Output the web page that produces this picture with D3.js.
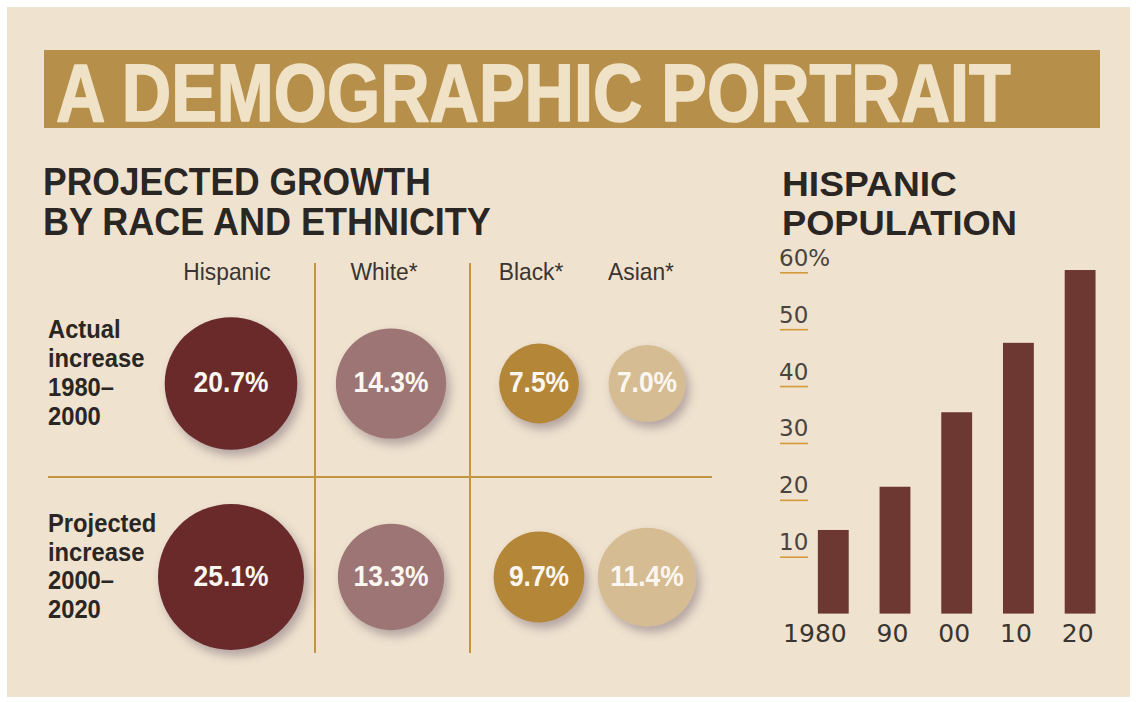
<!DOCTYPE html>
<html>
<head>
<meta charset="utf-8">
<script src="https://cdn.jsdelivr.net/npm/d3@7"></script>
<style>
  html, body { margin: 0; padding: 0; background: #ffffff; }
  svg { display: block; }
</style>
</head>
<body>
<svg id="chart" width="1136" height="702"></svg>
<script>
// ---- data ----
const groups = ["Hispanic", "White*", "Black*", "Asian*"];
const actualIncrease = [20.7, 14.3, 7.5, 7.0];      // 1980–2000
const projectedIncrease = [25.1, 13.3, 9.7, 11.4];  // 2000–2020
const rowLabels = [
  ["Actual", "increase", "1980–", "2000"],
  ["Projected", "increase", "2000–", "2020"]
];
const years = ["1980", "90", "00", "10", "20"];
const hispanicShare = [14.7, 22.3, 35.4, 47.6, 60.4];
const shareTicks = [10, 20, 30, 40, 50, 60];

// ---- styling ----
const groupColors = ["#6a2b2c", "#9d7574", "#b38639", "#d6bc92"];
const ink = "#2a2624";
const gold = "#c39542";
const sans = "Liberation Sans, Arial, sans-serif";

const svg = d3.select("#chart");

// drop shadow for the bubbles
const defs = svg.append("defs");
const f = defs.append("filter").attr("id", "soft").attr("x", "-30%").attr("y", "-30%")
  .attr("width", "170%").attr("height", "170%");
f.append("feDropShadow").attr("dx", 4).attr("dy", 6).attr("stdDeviation", 5)
  .attr("flood-color", "#6e5a70").attr("flood-opacity", 0.45);

// paper
svg.append("rect").attr("x", 7).attr("y", 7).attr("width", 1123).attr("height", 690)
  .attr("fill", "#efe2ce");

// ---- banner ----
svg.append("rect").attr("x", 44).attr("y", 50).attr("width", 1056).attr("height", 78)
  .attr("fill", "#b68f4b");
// condensed headline: squeeze horizontally so it spans the banner text area
const banner = svg.append("text").attr("x", 0).attr("y", 0)
  .attr("font-family", sans).attr("font-weight", 700)
  .attr("font-size", 81).attr("fill", "#f0e2c6")
  .attr("stroke", "#f0e2c6").attr("stroke-width", 1.6).attr("stroke-linejoin", "round")
  .text("A DEMOGRAPHIC PORTRAIT");
const bannerScale = 955 / banner.node().getComputedTextLength();
banner.attr("transform", `translate(56,121) scale(${bannerScale},1)`);

// ---- headings ----
function heading(txt, x, y, size, len) {
  const t = svg.append("text").attr("x", 0).attr("y", 0)
    .attr("font-family", sans).attr("font-weight", 700)
    .attr("font-size", size).attr("fill", ink)
    .text(txt);
  const s = len / t.node().getComputedTextLength();
  t.attr("transform", `translate(${x},${y}) scale(${s},1)`);
}
heading("PROJECTED GROWTH", 43, 195, 38, 388);
heading("BY RACE AND ETHNICITY", 43, 235, 38, 448);
heading("HISPANIC", 782, 196, 35, 175);
heading("POPULATION", 782, 235, 35, 235);

// ---- bubble grid ----
const colX = d3.scaleOrdinal().domain(groups).range([231, 391, 539, 647]);
const headX = d3.scaleOrdinal().domain(groups).range([227, 384, 531, 641]);
const rowY = [383.5, 577];
const r = d3.scaleSqrt().domain([0, 25.1]).range([0, 73]);

// grid rules
const rules = svg.append("g").attr("stroke", gold).attr("stroke-width", 2);
rules.append("line").attr("x1", 48).attr("x2", 712).attr("y1", 477).attr("y2", 477);
[315, 470].forEach(x => rules.append("line").attr("x1", x).attr("x2", x)
  .attr("y1", 263).attr("y2", 653));

// column headers
svg.append("g").selectAll("text").data(groups).join("text")
  .attr("x", d => headX(d)).attr("y", 280)
  .attr("text-anchor", "middle")
  .attr("font-family", sans)
  .attr("font-size", 24).attr("fill", "#3a3532")
  .attr("transform", d => `translate(${headX(d)},0) scale(0.95,1) translate(${-headX(d)},0)`)
  .text(d => d);

// row labels
rowLabels.forEach((lines, i) => {
  svg.append("g").selectAll("text").data(lines).join("text")
    .attr("x", 48).attr("y", (d, j) => rowY[i] - 45 + j * 28.7)
    .attr("font-family", sans).attr("font-weight", 700)
    .attr("font-size", 25).attr("fill", ink)
    .attr("transform", "translate(48,0) scale(0.95,1) translate(-48,0)")
    .text(d => d);
});

// bubbles
[actualIncrease, projectedIncrease].forEach((vals, i) => {
  const rows = groups.map((g, k) => ({ g, v: vals[k], c: groupColors[k] }));
  const gRow = svg.append("g");
  gRow.selectAll("circle").data(rows).join("circle")
    .attr("cx", d => colX(d.g)).attr("cy", rowY[i])
    .attr("r", d => r(d.v))
    .attr("fill", d => d.c)
    .attr("filter", "url(#soft)");
  gRow.selectAll("text").data(rows).join("text")
    .attr("x", d => colX(d.g)).attr("y", rowY[i] + 9)
    .attr("text-anchor", "middle")
    .attr("font-family", sans).attr("font-weight", 700)
    .attr("font-size", 30).attr("fill", "#fbf7f0")
    .attr("transform", d => `translate(${colX(d.g)},0) scale(0.88,1) translate(${-colX(d.g)},0)`)
    .text(d => d.v.toFixed(1) + "%");
});

// ---- Hispanic population bar chart ----
const x = d3.scaleBand().domain(years).range([787, 1126.4]).paddingInner(0.5).paddingOuter(0.5);
const y = d3.scaleLinear().domain([0, 60]).range([613.6, 272.3]);

svg.append("g").selectAll("rect").data(years).join("rect")
  .attr("x", d => x(d)).attr("width", x.bandwidth())
  .attr("y", (d, i) => y(hispanicShare[i]))
  .attr("height", (d, i) => y(0) - y(hispanicShare[i]))
  .attr("fill", "#6e3832");

// y axis: short rules under each label
const yAxis = svg.append("g").attr("transform", "translate(780,0)")
  .call(d3.axisRight(y).tickValues(shareTicks).tickSize(28)
    .tickFormat(d => d === 60 ? "60%" : String(d)));
yAxis.select(".domain").remove();
yAxis.selectAll(".tick line").attr("stroke", "#d49a3a").attr("stroke-width", 1.6);
yAxis.selectAll(".tick text")
  .attr("x", -1).attr("y", -7).attr("dy", 0).attr("text-anchor", "start")
  .attr("font-family", "DejaVu Sans, sans-serif").attr("font-size", 23)
  .attr("fill", "#4a4440");

// x axis: year labels aligned to the right edge of each bar
const xAxis = svg.append("g").attr("transform", `translate(0,${y(0)})`)
  .call(d3.axisBottom(x).tickSize(0));
xAxis.select(".domain").remove();
xAxis.selectAll(".tick text")
  .attr("x", x.bandwidth() / 2 - 2).attr("y", 28.4).attr("dy", 0)
  .attr("text-anchor", "end")
  .attr("font-family", "DejaVu Sans, sans-serif").attr("font-size", 25)
  .attr("fill", "#3a3532");
</script>
</body>
</html>
